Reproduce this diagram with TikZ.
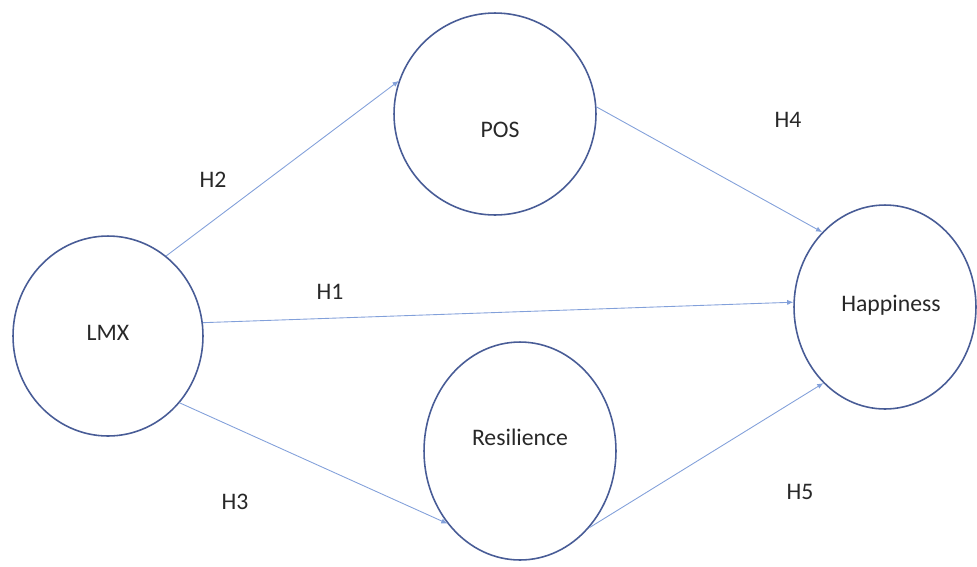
\documentclass[tikz,border=0pt]{standalone}
\usepackage{fontspec}
\setmainfont{Carlito}
\usetikzlibrary{shapes.geometric,arrows.meta}
\definecolor{rim}{RGB}{72,92,150}
\definecolor{link}{RGB}{130,160,218}
\definecolor{ink}{RGB}{40,40,40}
\tikzstyle{v}=[draw=rim,ellipse,line width=0.9pt,inner sep=0]
\tikzstyle{h}=[font=\fontsize{13.5}{15}\selectfont,text=ink]
\tikzstyle{e}=[draw=link,line width=0.5pt,-{Latex[length=3.5pt,width=3pt]}]

\begin{document}
\begin{tikzpicture}[x=0.02cm,y=-0.02cm]
                        \useasboundingbox (0,0) rectangle (977,566);

                        \node[v,minimum width=3.8cm,minimum height=4cm,label={[h,yshift=0.06cm]center:LMX}] (lmx) at (108,336) {};
                        \node[v,minimum width=4.04cm,minimum height=4.04cm,label={[h,xshift=0.1cm,yshift=-0.32cm]center:POS}] (pos) at (495,114) {};
                        \node[v,minimum width=3.84cm,minimum height=4.36cm,label={[h,yshift=0.28cm]center:Resilience}] (res) at (520,451) {};
                        \node[v,minimum width=3.64cm,minimum height=4.08cm,label={[h,xshift=0.12cm,yshift=0.04cm]center:Happiness}] (hap) at (885,307) {};

                        \node[h] (h1) at (330,292) {H1};
                        \node[h] (h2) at (213,180) {H2};
                        \node[h] (h3) at (235,502) {H3};
                        \node[h] (h4) at (788,120) {H4};
                        \node[h] (h5) at (800,492) {H5};

                        \draw[e] (lmx.8) -- (hap.177);
                        \draw[e] (lmx.54) -- (pos.161);
                        \draw[e] (lmx.-43) -- (res.225);
                        \draw[e] (pos.4) -- (hap.130);
                        \draw[e] (res.-48) -- (hap.231);

\end{tikzpicture}
\end{document}
